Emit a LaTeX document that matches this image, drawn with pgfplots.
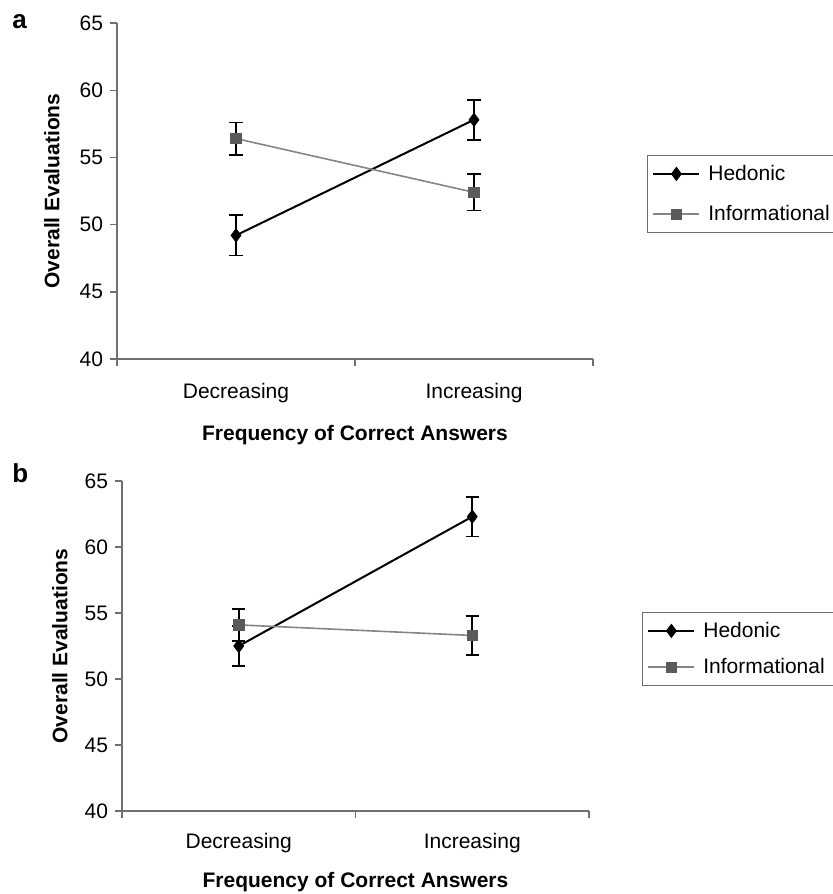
\documentclass[border=0pt]{standalone}
\usepackage{fontspec}
\setmainfont{Liberation Sans}
\usepackage{pgfplots}
\usepackage{pgfplotstable}
\pgfplotsset{compat=1.18}
\definecolor{axisgray}{HTML}{707070}
\definecolor{infoline}{HTML}{858585}
\definecolor{infomark}{HTML}{5A5A5A}

\pgfplotstableread{
x y e
0 49.2 1.5
1 57.8 1.5
}\hedA
\pgfplotstableread{
x y e
0 56.4 1.2
1 52.4 1.35
}\infA
\pgfplotstableread{
x y e
0 52.5 1.5
1 62.3 1.5
}\hedB
\pgfplotstableread{
x y e
0 54.1 1.2
1 53.3 1.5
}\infB

\pgfplotsset{
  panel/.style={
    scale only axis,
    xmin=-0.5, xmax=1.5, ymin=40, ymax=65,
    ytick={40,45,...,65},
    xtick={-0.5,0.5,1.5}, xticklabels={},
    extra x ticks={0,1},
    extra x tick labels={Decreasing,Increasing},
    axis x line*=bottom, axis y line*=left,
    axis line style={axisgray, line width=0.7pt},
    tick style={axisgray, line width=0.7pt},
    tick align=outside,
    major tick length=3.5pt,
    /pgf/number format/assume math mode=true,
    tick label style={font=\fontsize{10.5}{12}\selectfont},
    label style={font=\bfseries\fontsize{10.5}{12}\selectfont},
    ylabel={Overall Evaluations},
    xlabel={Frequency of Correct Answers},
    clip=false,
    legend cell align=left,
    legend style={at={(axis description cs:1.113,0.5)}, anchor=west,
      draw=axisgray, line width=0.6pt,
      font=\fontsize{10.5}{12}\selectfont,
      inner xsep=2.5pt, inner ysep=2.5pt,
      /tikz/every odd column/.append style={column sep=2pt}},
    legend image code/.code={\draw[mark repeat=2,mark phase=2] plot coordinates {(0pt,0pt) (11.5pt,0pt) (23pt,0pt)};},
    error bars/y dir=both, error bars/y explicit,
    error bars/error bar style={black, line width=0.9pt},
    error bars/error mark options={rotate=90, black, mark size=3.3pt, line width=0.9pt},
  },
  hed/.style={black, line width=1pt, mark=diamond*, mark size=3.3pt, mark options={fill=black, draw=black, line width=0.4pt}},
  inf/.style={infoline, line width=0.8pt, mark=square*, mark size=2.6pt, mark options={fill=infomark, draw=infomark, line width=0.4pt}},
}

\begin{document}
\begin{tikzpicture}
\useasboundingbox (0,0) rectangle (416.5pt,-447pt);
\node[anchor=base west, font=\bfseries\fontsize{13}{14}\selectfont, inner sep=0pt] at (6pt,-14pt) {a};
\node[anchor=base west, font=\bfseries\fontsize{13}{14}\selectfont, inner sep=0pt] at (6pt,-241pt) {b};

\begin{axis}[panel, at={(58.5pt,-179.5pt)}, anchor=south west, width=238pt, height=168pt,
  extra x tick style={major tick length=0pt, xticklabel style={anchor=base, yshift=-19.5pt}},
  legend style={row sep=7pt, yshift=-1.5pt},
  ylabel style={at={(axis description cs:-0.137,0.5)}, anchor=center},
  xlabel style={at={(axis description cs:0.5,-0.225)}, anchor=center}]
\addplot[hed] table[x=x, y=y, y error=e] {\hedA};
\addlegendentry{Hedonic}
\addplot[inf] table[x=x, y=y, y error=e] {\infA};
\addlegendentry{Informational}
\end{axis}

\begin{axis}[panel, at={(61pt,-405.5pt)}, anchor=south west, width=233.5pt, height=165pt,
  extra x tick style={major tick length=0pt, xticklabel style={anchor=base, yshift=-18.5pt}},
  legend style={row sep=5pt, yshift=-1.5pt},
  ylabel style={at={(axis description cs:-0.133,0.5)}, anchor=center},
  xlabel style={at={(axis description cs:0.5,-0.215)}, anchor=center}]
\addplot[hed] table[x=x, y=y, y error=e] {\hedB};
\addlegendentry{Hedonic}
\addplot[inf] table[x=x, y=y, y error=e] {\infB};
\addlegendentry{Informational}
\end{axis}
\end{tikzpicture}
\end{document}
